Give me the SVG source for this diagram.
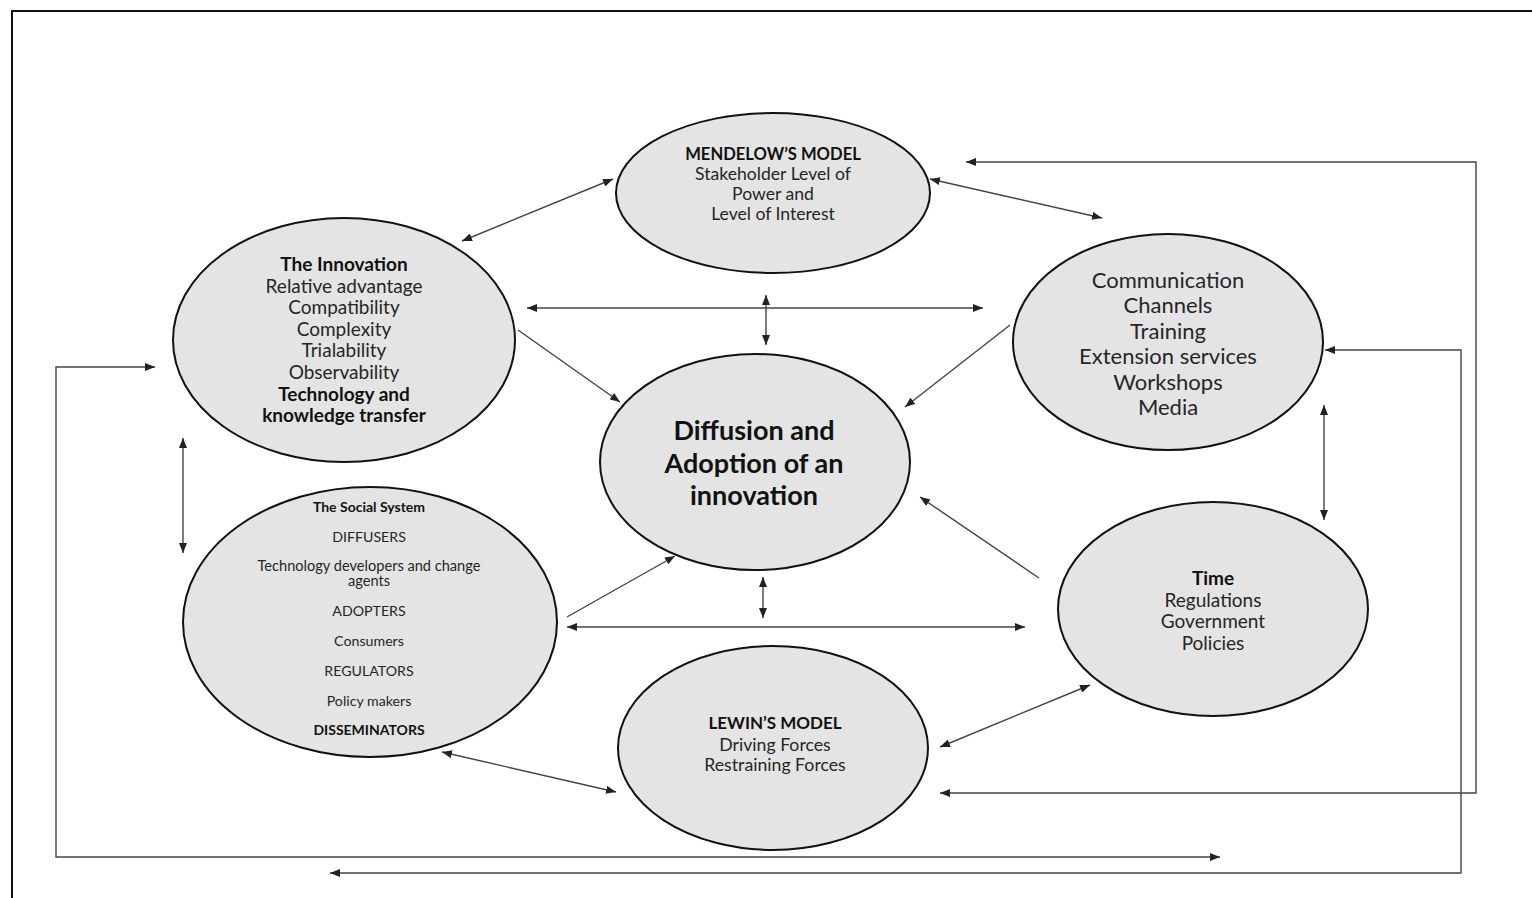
<svg xmlns="http://www.w3.org/2000/svg" width="1532" height="898" viewBox="0 0 1532 898">
<defs>
<marker id="ah" viewBox="0 0 10 8" refX="10" refY="4" markerWidth="10" markerHeight="8" markerUnits="userSpaceOnUse" orient="auto-start-reverse">
<path d="M0,0 L10,4 L0,8 z" fill="#222"/>
</marker>
<style>
.node ellipse{fill:#e4e4e4;stroke:#111;stroke-width:2}
.node text{font-family:Lato,"Open Sans","Liberation Sans",sans-serif;fill:#262626;text-anchor:middle}
.node text.b{font-weight:bold;fill:#111}
.con line,.con polyline{stroke:#444;stroke-width:1.4;fill:none}
.dbl{marker-start:url(#ah);marker-end:url(#ah)}
.one{marker-end:url(#ah)}
.frame{stroke:#111;stroke-width:2;fill:none}
</style>
</defs>
<rect width="1532" height="898" fill="#fff"/>
<polyline class="frame" points="12,898 12,11 1532,11"/>

<g class="con" id="connectors">
<line class="dbl" x1="613" y1="179" x2="462" y2="241"/>
<line class="dbl" x1="930" y1="179" x2="1102" y2="218"/>
<line class="dbl" x1="527" y1="308" x2="983" y2="308"/>
<line class="dbl" x1="766" y1="295" x2="766" y2="345"/>
<line class="one" x1="518" y1="330" x2="620" y2="402"/>
<line class="one" x1="1010" y1="325" x2="905" y2="407"/>
<line class="dbl" x1="183" y1="438" x2="183" y2="553"/>
<line class="one" x1="567" y1="617" x2="675" y2="556"/>
<line class="dbl" x1="763" y1="577" x2="763" y2="618"/>
<line class="dbl" x1="567" y1="627" x2="1025" y2="627"/>
<line class="one" x1="1039" y1="578" x2="920" y2="497"/>
<line class="dbl" x1="1324" y1="405" x2="1324" y2="520"/>
<line class="dbl" x1="940" y1="747" x2="1090" y2="685"/>
<line class="dbl" x1="442" y1="752" x2="616" y2="792"/>
<polyline class="dbl" points="966,162 1476,162 1476,793 940,793"/>
<polyline class="dbl" points="1325,350 1461,350 1461,873 330,873"/>
<polyline class="one" points="1220,857 56,857 56,367 155,367" style="marker-start:url(#ah)"/>
</g>

<g class="node" id="mendelow">
<ellipse cx="773" cy="193" rx="157" ry="80"/>
<text class="b" x="773" y="160" font-size="16.6">MENDELOW’S MODEL</text>
<text x="773" y="180" font-size="17.6">Stakeholder Level of</text>
<text x="773" y="200" font-size="17.6">Power and</text>
<text x="773" y="220" font-size="17.6">Level of Interest</text>
</g>

<g class="node" id="innovation">
<ellipse cx="344" cy="340" rx="171" ry="122"/>
<text class="b" x="344" y="270.5" font-size="19">The Innovation</text>
<text x="344" y="292.5" font-size="19">Relative advantage</text>
<text x="344" y="313.5" font-size="19">Compatibility</text>
<text x="344" y="335.5" font-size="19">Complexity</text>
<text x="344" y="356.5" font-size="19">Trialability</text>
<text x="344" y="378.5" font-size="19">Observability</text>
<text class="b" x="344" y="400.5" font-size="19">Technology and</text>
<text class="b" x="344" y="421.5" font-size="19">knowledge transfer</text>
</g>

<g class="node" id="communication">
<ellipse cx="1168" cy="342" rx="155" ry="108"/>
<text x="1168" y="287.5" font-size="22">Communication</text>
<text x="1168" y="312.5" font-size="22">Channels</text>
<text x="1168" y="338.5" font-size="22">Training</text>
<text x="1168" y="363.5" font-size="22">Extension services</text>
<text x="1168" y="389.5" font-size="22">Workshops</text>
<text x="1168" y="414.5" font-size="22">Media</text>
</g>

<g class="node" id="diffusion">
<ellipse cx="755" cy="462" rx="155" ry="108"/>
<text class="b" x="754" y="440" font-size="27">Diffusion and</text>
<text class="b" x="754" y="473" font-size="27">Adoption of an</text>
<text class="b" x="754" y="505" font-size="27">innovation</text>
</g>

<g class="node" id="social">
<ellipse cx="370" cy="622" rx="187" ry="135"/>
<text class="b" x="369" y="512" font-size="14">The Social System</text>
<text x="369" y="542" font-size="14.2">DIFFUSERS</text>
<text x="369" y="571" font-size="14.6">Technology developers and change</text>
<text x="369" y="586" font-size="14.6">agents</text>
<text x="369" y="616" font-size="14.2">ADOPTERS</text>
<text x="369" y="646" font-size="14.2">Consumers</text>
<text x="369" y="676" font-size="14.2">REGULATORS</text>
<text x="369" y="706" font-size="14.2">Policy makers</text>
<text class="b" x="369" y="735" font-size="14">DISSEMINATORS</text>
</g>

<g class="node" id="time">
<ellipse cx="1213" cy="609" rx="155" ry="107"/>
<text class="b" x="1213" y="584.5" font-size="19">Time</text>
<text x="1213" y="606.5" font-size="19">Regulations</text>
<text x="1213" y="627.5" font-size="19">Government</text>
<text x="1213" y="649.5" font-size="19">Policies</text>
</g>

<g class="node" id="lewin">
<ellipse cx="773" cy="748" rx="155" ry="102"/>
<text class="b" x="775" y="729" font-size="17">LEWIN’S MODEL</text>
<text x="775" y="750.5" font-size="17.7">Driving Forces</text>
<text x="775" y="770.5" font-size="17.7">Restraining Forces</text>
</g>
</svg>
